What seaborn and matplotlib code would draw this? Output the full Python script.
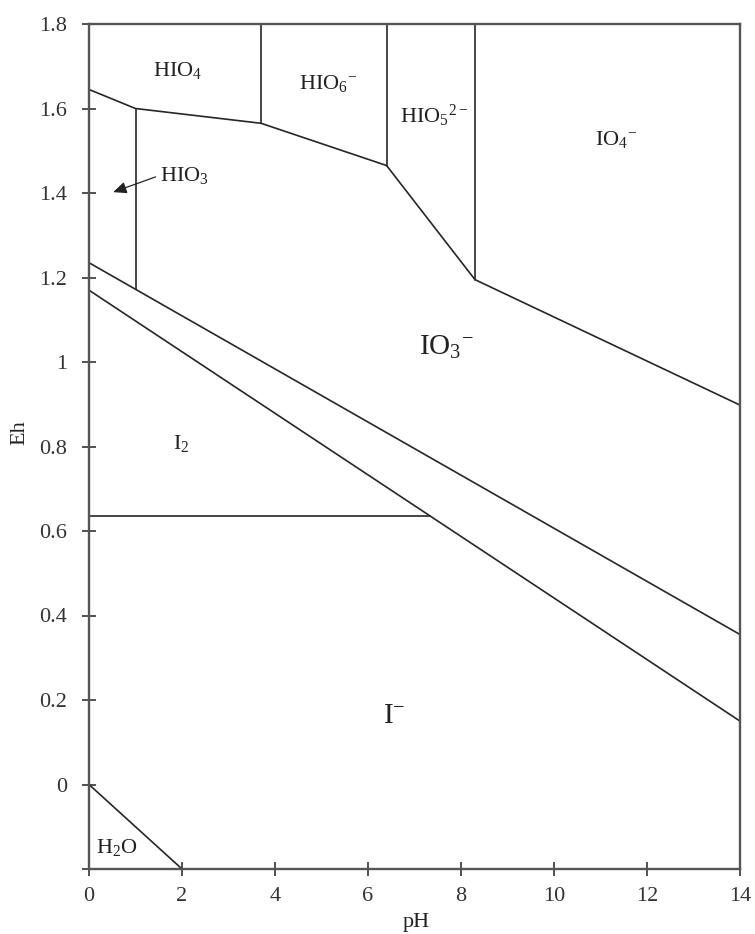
import matplotlib
matplotlib.use("Agg")
import matplotlib.pyplot as plt
import numpy as np
import pandas as pd
import seaborn as sns

# Eh-pH boundaries for the iodine–water system (pH, Eh in V)
upper_ph = [0, 1.0, 3.7, 6.4, 8.3, 14]
upper_eh = [1.645, 1.60, 1.565, 1.465, 1.195, 0.898]

vertical_ph = [1.0, 3.7, 6.4, 8.3]
vertical_eh_low = [1.172, 1.565, 1.465, 1.195]
vertical_eh_high = [1.60, 1.8, 1.8, 1.8]

iodate_ph = [0, 14]
iodate_eh = [1.235, 0.355]

iodide_ph = [0, 14]
iodide_eh = [1.17, 0.15]

iodine_ph = [0, 7.34]
iodine_eh = [0.635, 0.635]

water_ph = [0, 2]
water_eh = [0.0, -0.2]

# Field labels
species = ["HIO$_4$", "HIO$_6{}^{-}$", "HIO$_5{}^{2-}$", "IO$_4{}^{-}$",
           "IO$_3{}^{-}$", "I$_2$", "I$^{-}$", "H$_2$O"]
label_ph = [1.90, 5.14, 7.42, 11.33, 7.68, 1.99, 6.56, 0.60]
label_eh = [1.690, 1.660, 1.582, 1.527, 1.035, 0.807, 0.163, -0.150]
label_size = [16, 16, 16, 16, 21, 16, 21, 16]

arrow_label = "HIO$_3$"
arrow_tip = (0.52, 1.402)
arrow_text = (1.53, 1.442)

x_ticks = [0, 2, 4, 6, 8, 10, 12, 14]
y_ticks = [-0.2, 0, 0.2, 0.4, 0.6, 0.8, 1.0, 1.2, 1.4, 1.6, 1.8]
y_tick_labels = ["", "0", "0.2", "0.4", "0.6", "0.8", "1", "1.2", "1.4", "1.6", "1.8"]

# Assemble every boundary into one long table, one id per segment
segments = [(upper_ph, upper_eh), (iodate_ph, iodate_eh), (iodide_ph, iodide_eh),
            (iodine_ph, iodine_eh), (water_ph, water_eh)]
for ph, lo, hi in zip(vertical_ph, vertical_eh_low, vertical_eh_high):
    segments.append(([ph, ph], [lo, hi]))

rows = []
for sid, (xs, ys) in enumerate(segments):
    for order, (x, y) in enumerate(zip(xs, ys)):
        rows.append({"segment": sid, "order": order, "pH": x, "Eh": y})
df = pd.DataFrame(rows)

sns.set_theme(style="white")
plt.rcParams["font.family"] = ["Liberation Serif", "DejaVu Serif"]
plt.rcParams["mathtext.fontset"] = "custom"
plt.rcParams["mathtext.rm"] = "Liberation Serif"
plt.rcParams["mathtext.it"] = "Liberation Serif:italic"
plt.rcParams["mathtext.bf"] = "Liberation Serif:bold"
plt.rcParams["mathtext.default"] = "regular"

fig = plt.figure(figsize=(7.55, 9.34), dpi=100)
ax = fig.add_axes([89 / 755, 65 / 934, 651 / 755, 845 / 934])

line_color = "#262626"
sns.lineplot(data=df, x="pH", y="Eh", units="segment", estimator=None,
             sort=False, color=line_color, linewidth=1.2, ax=ax, legend=False)

for text, x, y, s in zip(species, label_ph, label_eh, label_size):
    ax.text(x, y, text, ha="center", va="center", fontsize=s, color="#222222")

ax.annotate(arrow_label, xy=arrow_tip, xytext=arrow_text,
            ha="left", va="center", fontsize=16, color="#222222",
            arrowprops=dict(arrowstyle="-|>,head_length=0.5,head_width=0.22",
                            color="#222222", lw=0.9, shrinkA=1, shrinkB=0,
                            relpos=(0, 0.5)))

ax.set_xlim(0, 14)
ax.set_ylim(-0.2, 1.8)
ax.set_xticks(x_ticks)
ax.set_xticklabels([str(t) for t in x_ticks])
ax.set_yticks(y_ticks)
ax.set_yticklabels(y_tick_labels)

for side in ["left", "right", "top", "bottom"]:
    ax.spines[side].set_visible(True)
    ax.spines[side].set_color("#555555")
    ax.spines[side].set_linewidth(1.7)

ax.tick_params(axis="both", direction="inout", length=10, width=1.2,
               color="#333333", labelsize=16, labelcolor="#333333")
ax.tick_params(axis="x", pad=8, bottom=True)
ax.tick_params(axis="y", pad=11, left=True)

ax.set_xlabel("pH", fontsize=16, color="#222222", va="top")
ax.set_ylabel("Eh", fontsize=16, color="#222222")
ax.xaxis.set_label_coords(0.503, -0.052)
ax.yaxis.set_label_coords(-0.091, 0.517)

fig.savefig("out.png", dpi=100, facecolor="white")
